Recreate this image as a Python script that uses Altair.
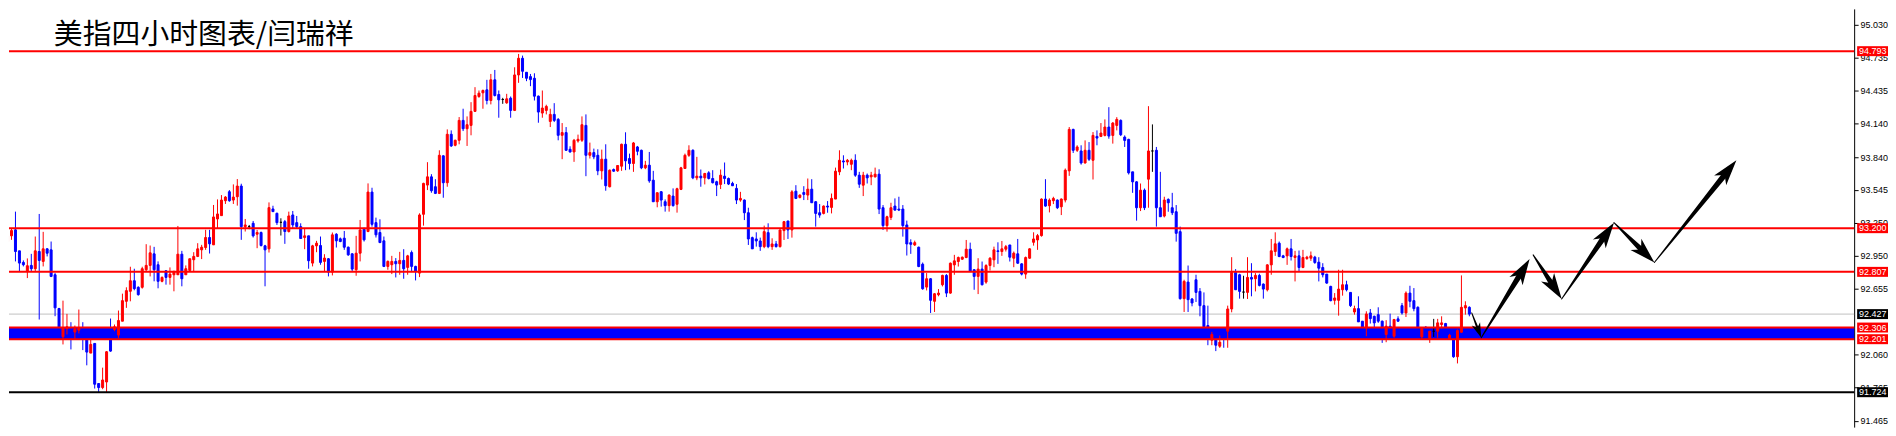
import math
import altair as alt
import pandas as pd

# ---------------- data ----------------
opens = [
    93.080, 93.131, 93.185, 92.996, 92.892, 92.811, 92.865, 92.835, 92.990, 92.901,
    93.014, 93.005, 92.781, 92.477, 92.223, 92.297, 92.300, 92.265, 92.282, 92.294,
    92.199, 92.076, 92.163, 91.802, 91.766, 91.816, 92.288, 92.288, 92.238, 92.363,
    92.542, 92.632, 92.727, 92.668, 92.668, 92.826, 92.865, 92.969, 92.871, 92.722,
    92.817, 92.757, 92.781, 92.781, 92.966, 92.781, 92.820, 92.916, 92.946, 93.005,
    93.026, 93.116, 93.050, 93.283, 93.313, 93.447, 93.528, 93.453, 93.483, 93.579,
    93.214, 93.214, 93.244, 93.146, 93.161, 93.041, 93.014, 93.373, 93.334, 93.253,
    93.259, 93.170, 93.319, 93.250, 93.214, 93.116, 93.131, 92.886, 93.041, 93.044,
    92.901, 92.925, 92.805, 93.146, 93.104, 93.110, 93.029, 92.969, 92.826, 92.975,
    93.190, 93.170, 93.525, 93.250, 93.161, 93.086, 92.856, 92.871, 92.901, 92.880,
    92.910, 92.847, 92.981, 92.856, 92.796, 93.325, 93.588, 93.662, 93.573, 93.513,
    93.851, 93.609, 94.045, 93.946, 93.991, 94.170, 94.095, 94.125, 94.251, 94.385,
    94.418, 94.445, 94.349, 94.535, 94.403, 94.358, 94.328, 94.370, 94.260, 94.579,
    94.729, 94.603, 94.564, 94.549, 94.388, 94.236, 94.260, 94.161, 94.224, 94.179,
    94.036, 94.060, 93.910, 93.886, 93.985, 93.991, 94.125, 93.856, 93.880, 93.856,
    93.716, 93.821, 93.573, 93.728, 93.716, 93.758, 93.955, 93.827, 93.782, 93.931,
    93.901, 93.743, 93.767, 93.632, 93.438, 93.528, 93.438, 93.403, 93.489, 93.415,
    93.549, 93.737, 93.856, 93.901, 93.653, 93.668, 93.653, 93.698, 93.647, 93.618,
    93.594, 93.668, 93.647, 93.603, 93.558, 93.453, 93.453, 93.339, 93.115, 93.103,
    93.085, 93.034, 93.160, 93.034, 93.058, 93.034, 93.178, 93.265, 93.184, 93.533,
    93.477, 93.521, 93.498, 93.551, 93.438, 93.339, 93.333, 93.399, 93.387, 93.462,
    93.707, 93.805, 93.796, 93.775, 93.811, 93.677, 93.587, 93.677, 93.662, 93.662,
    93.686, 93.384, 93.223, 93.297, 93.399, 93.372, 93.372, 93.229, 93.070, 93.049,
    93.029, 92.876, 92.670, 92.745, 92.542, 92.601, 92.691, 92.775, 92.616, 92.870,
    92.900, 92.921, 92.936, 93.011, 92.826, 92.766, 92.832, 92.715, 92.864, 92.915,
    92.996, 92.990, 93.011, 93.049, 92.930, 92.969, 92.879, 92.787, 92.930, 93.073,
    93.094, 93.133, 93.462, 93.402, 93.447, 93.453, 93.393, 93.453, 93.716, 94.089,
    93.901, 93.895, 93.787, 93.901, 93.811, 94.026, 94.026, 94.035, 94.110, 94.035,
    94.125, 94.170, 94.020, 93.999, 93.707, 93.617, 93.384, 93.542, 93.641, 93.895,
    93.901, 93.384, 93.309, 93.459, 93.384, 93.348, 93.169, 92.566, 92.715, 92.563,
    92.736, 92.631, 92.503, 92.324, 92.192, 92.207, 92.138, 92.273, 92.273, 92.473,
    92.802, 92.781, 92.625, 92.622, 92.757, 92.745, 92.775, 92.697, 92.646, 92.870,
    92.990, 93.065, 92.951, 92.951, 93.014, 92.936, 92.951, 92.846, 92.927, 92.930,
    92.939, 92.894, 92.846, 92.787, 92.676, 92.551, 92.551, 92.646, 92.691, 92.622,
    92.446, 92.476, 92.363, 92.303, 92.437, 92.407, 92.422, 92.363, 92.243, 92.318,
    92.228, 92.384, 92.503, 92.437, 92.616, 92.548, 92.488, 92.222, 92.309, 92.207,
    92.273, 92.273, 92.333, 92.342, 92.207, 92.279, 92.043, 92.264, 92.482, 92.488,
]
highs = [
    93.185, 93.199, 93.349, 92.996, 92.910, 92.928, 92.969, 93.125, 93.328, 93.167,
    93.020, 93.080, 92.796, 92.483, 92.548, 92.429, 92.354, 92.324, 92.468, 92.354,
    92.205, 92.205, 92.163, 91.802, 91.945, 92.094, 92.387, 92.333, 92.459, 92.611,
    92.668, 92.853, 92.835, 92.677, 92.853, 93.056, 93.044, 93.032, 92.901, 92.766,
    92.823, 92.847, 92.817, 93.220, 92.996, 92.865, 92.925, 92.984, 93.065, 93.050,
    93.185, 93.185, 93.409, 93.459, 93.498, 93.489, 93.543, 93.594, 93.642, 93.600,
    93.283, 93.229, 93.265, 93.184, 93.170, 93.050, 93.432, 93.402, 93.340, 93.289,
    93.274, 93.349, 93.355, 93.310, 93.244, 93.199, 93.131, 93.050, 93.086, 93.125,
    92.966, 92.931, 93.161, 93.155, 93.116, 93.175, 93.035, 92.975, 93.131, 93.274,
    93.205, 93.603, 93.564, 93.295, 93.280, 93.125, 92.910, 92.951, 92.931, 92.987,
    93.011, 92.960, 92.999, 92.862, 93.334, 93.609, 93.794, 93.686, 93.641, 93.901,
    93.856, 94.089, 94.080, 93.997, 94.200, 94.275, 94.206, 94.334, 94.469, 94.439,
    94.448, 94.535, 94.588, 94.624, 94.439, 94.373, 94.409, 94.385, 94.648, 94.768,
    94.753, 94.603, 94.588, 94.594, 94.394, 94.439, 94.311, 94.275, 94.325, 94.191,
    94.146, 94.110, 93.937, 94.003, 94.042, 94.206, 94.224, 93.970, 93.916, 93.910,
    93.907, 93.955, 93.728, 93.737, 93.767, 93.961, 94.063, 93.871, 93.976, 93.940,
    93.907, 93.806, 93.886, 93.716, 93.522, 93.534, 93.459, 93.504, 93.558, 93.564,
    93.752, 93.871, 93.946, 93.910, 93.842, 93.728, 93.698, 93.713, 93.722, 93.627,
    93.728, 93.791, 93.656, 93.618, 93.597, 93.527, 93.459, 93.384, 93.124, 93.163,
    93.115, 93.223, 93.244, 93.109, 93.085, 93.190, 93.265, 93.265, 93.542, 93.587,
    93.504, 93.578, 93.647, 93.641, 93.444, 93.417, 93.405, 93.444, 93.512, 93.745,
    93.901, 93.856, 93.823, 93.826, 93.865, 93.707, 93.707, 93.692, 93.707, 93.745,
    93.730, 93.408, 93.312, 93.429, 93.468, 93.483, 93.408, 93.268, 93.100, 93.088,
    93.034, 92.891, 92.796, 92.751, 92.616, 92.652, 92.781, 92.787, 92.891, 92.960,
    92.945, 92.945, 93.094, 93.070, 92.832, 92.930, 92.900, 92.876, 92.939, 93.034,
    93.073, 93.085, 93.049, 93.049, 92.990, 93.103, 92.885, 92.945, 93.020, 93.163,
    93.148, 93.468, 93.641, 93.468, 93.483, 93.459, 93.468, 93.737, 94.110, 94.095,
    93.946, 93.946, 93.990, 93.975, 94.065, 94.080, 94.146, 94.179, 94.289, 94.155,
    94.199, 94.179, 94.035, 94.005, 93.707, 93.623, 93.602, 93.557, 94.298, 94.134,
    93.931, 93.707, 93.483, 93.468, 93.518, 93.408, 93.214, 92.736, 92.864, 92.572,
    92.781, 92.661, 92.622, 92.503, 92.267, 92.213, 92.234, 92.294, 92.503, 92.939,
    92.832, 92.790, 92.772, 92.939, 92.885, 92.796, 92.790, 92.703, 92.876, 93.103,
    93.163, 93.080, 92.960, 93.026, 93.103, 92.996, 92.999, 93.005, 92.951, 92.990,
    92.951, 92.939, 92.885, 92.787, 92.682, 92.616, 92.826, 92.826, 92.727, 92.625,
    92.503, 92.587, 92.363, 92.452, 92.473, 92.413, 92.488, 92.369, 92.372, 92.431,
    92.384, 92.407, 92.527, 92.631, 92.682, 92.661, 92.497, 92.303, 92.318, 92.273,
    92.384, 92.384, 92.407, 92.348, 92.249, 92.288, 92.288, 92.775, 92.542, 92.497,
]
lows = [
    93.020, 93.095, 92.901, 92.811, 92.856, 92.751, 92.811, 92.811, 92.378, 92.856,
    92.946, 92.760, 92.408, 92.229, 92.154, 92.244, 92.109, 92.199, 92.253, 92.103,
    91.966, 92.076, 91.757, 91.721, 91.751, 91.721, 92.088, 92.273, 92.208, 92.363,
    92.483, 92.542, 92.641, 92.593, 92.656, 92.811, 92.766, 92.722, 92.659, 92.713,
    92.692, 92.692, 92.632, 92.781, 92.677, 92.781, 92.811, 92.811, 92.940, 92.922,
    93.005, 92.972, 93.050, 93.193, 93.313, 93.418, 93.438, 93.418, 93.403, 93.095,
    93.170, 93.191, 93.116, 93.020, 93.035, 92.677, 92.981, 93.349, 93.229, 93.134,
    93.059, 93.161, 93.199, 93.199, 93.104, 93.011, 92.835, 92.856, 92.984, 92.871,
    92.811, 92.766, 92.775, 93.026, 93.074, 93.005, 92.951, 92.805, 92.772, 92.901,
    93.080, 93.164, 93.214, 93.116, 93.065, 92.850, 92.826, 92.787, 92.757, 92.781,
    92.745, 92.781, 92.805, 92.730, 92.760, 93.223, 93.543, 93.519, 93.507, 93.507,
    93.474, 93.573, 93.931, 93.937, 93.955, 94.074, 93.940, 94.036, 94.251, 94.373,
    94.275, 94.314, 94.314, 94.385, 94.194, 94.319, 94.319, 94.194, 94.254, 94.508,
    94.552, 94.523, 94.478, 94.349, 94.149, 94.194, 94.224, 94.110, 94.155, 93.991,
    93.821, 93.895, 93.880, 93.797, 93.970, 93.976, 93.668, 93.827, 93.821, 93.677,
    93.638, 93.537, 93.567, 93.707, 93.707, 93.716, 93.722, 93.728, 93.707, 93.856,
    93.731, 93.731, 93.609, 93.438, 93.388, 93.394, 93.349, 93.349, 93.394, 93.340,
    93.543, 93.737, 93.842, 93.641, 93.632, 93.573, 93.594, 93.638, 93.603, 93.489,
    93.552, 93.597, 93.588, 93.579, 93.417, 93.438, 93.273, 93.049, 93.014, 93.034,
    92.996, 93.020, 93.020, 93.005, 93.026, 93.026, 93.094, 93.103, 93.115, 93.462,
    93.468, 93.453, 93.453, 93.429, 93.214, 93.294, 93.324, 93.339, 93.333, 93.462,
    93.677, 93.737, 93.766, 93.722, 93.662, 93.563, 93.489, 93.602, 93.587, 93.656,
    93.327, 93.184, 93.169, 93.273, 93.357, 93.354, 93.124, 92.954, 92.969, 93.040,
    92.849, 92.646, 92.640, 92.437, 92.446, 92.587, 92.676, 92.580, 92.610, 92.781,
    92.855, 92.915, 92.930, 92.805, 92.646, 92.607, 92.685, 92.700, 92.819, 92.849,
    92.879, 92.951, 92.990, 92.900, 92.849, 92.879, 92.775, 92.745, 92.924, 93.043,
    93.005, 93.124, 93.393, 93.342, 93.417, 93.372, 93.318, 93.432, 93.671, 93.877,
    93.886, 93.772, 93.781, 93.805, 93.638, 93.946, 94.020, 94.026, 94.005, 93.961,
    94.080, 94.029, 93.931, 93.683, 93.518, 93.268, 93.354, 93.363, 93.384, 93.707,
    93.214, 93.303, 93.297, 93.348, 93.318, 93.079, 92.557, 92.446, 92.446, 92.497,
    92.536, 92.407, 92.303, 92.147, 92.147, 92.094, 92.123, 92.124, 92.124, 92.443,
    92.646, 92.566, 92.566, 92.563, 92.587, 92.631, 92.676, 92.566, 92.631, 92.781,
    92.951, 92.939, 92.930, 92.870, 92.909, 92.721, 92.805, 92.840, 92.915, 92.906,
    92.879, 92.721, 92.757, 92.700, 92.542, 92.512, 92.413, 92.593, 92.631, 92.491,
    92.422, 92.357, 92.297, 92.228, 92.342, 92.303, 92.348, 92.168, 92.174, 92.294,
    92.213, 92.357, 92.422, 92.401, 92.488, 92.452, 92.294, 92.204, 92.294, 92.168,
    92.222, 92.213, 92.297, 92.297, 92.198, 92.034, 91.983, 92.258, 92.422, 92.407,
]
closes = [
    93.131, 93.179, 92.990, 92.886, 92.871, 92.862, 92.835, 92.996, 92.910, 93.014,
    92.975, 92.766, 92.483, 92.303, 92.303, 92.312, 92.265, 92.294, 92.300, 92.265,
    92.085, 92.154, 91.796, 91.766, 91.834, 92.088, 92.094, 92.312, 92.369, 92.548,
    92.638, 92.727, 92.656, 92.602, 92.835, 92.865, 92.978, 92.826, 92.722, 92.757,
    92.757, 92.787, 92.811, 92.966, 92.745, 92.835, 92.925, 92.946, 93.014, 93.029,
    93.116, 93.059, 93.301, 93.328, 93.453, 93.480, 93.447, 93.480, 93.579, 93.214,
    93.229, 93.214, 93.131, 93.161, 93.044, 93.005, 93.385, 93.349, 93.250, 93.253,
    93.170, 93.310, 93.229, 93.214, 93.107, 93.131, 92.907, 93.041, 93.065, 92.892,
    92.931, 92.805, 93.140, 93.086, 93.080, 93.029, 92.960, 92.832, 92.975, 93.184,
    93.095, 93.525, 93.235, 93.140, 93.071, 92.856, 92.901, 92.901, 92.880, 92.910,
    92.835, 92.951, 92.856, 92.811, 93.319, 93.603, 93.662, 93.537, 93.513, 93.856,
    93.609, 94.045, 93.940, 93.991, 94.170, 94.095, 94.131, 94.251, 94.394, 94.415,
    94.439, 94.349, 94.535, 94.394, 94.355, 94.358, 94.364, 94.260, 94.579, 94.729,
    94.612, 94.549, 94.537, 94.388, 94.245, 94.281, 94.296, 94.224, 94.170, 94.036,
    94.060, 93.901, 93.886, 93.991, 94.000, 94.131, 93.856, 93.880, 93.842, 93.716,
    93.821, 93.582, 93.722, 93.713, 93.764, 93.955, 93.806, 93.782, 93.967, 93.892,
    93.743, 93.767, 93.626, 93.438, 93.519, 93.453, 93.403, 93.498, 93.403, 93.555,
    93.743, 93.856, 93.901, 93.653, 93.668, 93.653, 93.692, 93.647, 93.609, 93.588,
    93.677, 93.647, 93.597, 93.582, 93.453, 93.468, 93.339, 93.103, 93.014, 93.085,
    93.034, 93.169, 93.034, 93.058, 93.034, 93.184, 93.259, 93.184, 93.527, 93.468,
    93.498, 93.504, 93.551, 93.429, 93.333, 93.318, 93.399, 93.390, 93.468, 93.713,
    93.811, 93.796, 93.811, 93.811, 93.677, 93.596, 93.677, 93.653, 93.677, 93.686,
    93.372, 93.223, 93.303, 93.384, 93.363, 93.363, 93.223, 93.058, 93.055, 93.070,
    92.855, 92.655, 92.745, 92.551, 92.610, 92.616, 92.775, 92.616, 92.885, 92.906,
    92.936, 92.939, 93.011, 92.811, 92.766, 92.832, 92.691, 92.864, 92.930, 93.005,
    92.990, 93.014, 93.034, 92.939, 92.975, 92.885, 92.787, 92.936, 93.014, 93.103,
    93.133, 93.462, 93.399, 93.453, 93.468, 93.384, 93.462, 93.722, 94.089, 93.901,
    93.931, 93.787, 93.901, 93.820, 94.035, 94.011, 94.056, 94.110, 94.029, 94.146,
    94.179, 94.041, 93.990, 93.698, 93.617, 93.384, 93.542, 93.384, 93.895, 93.895,
    93.384, 93.303, 93.453, 93.429, 93.339, 93.154, 92.566, 92.721, 92.557, 92.527,
    92.622, 92.503, 92.312, 92.282, 92.243, 92.147, 92.174, 92.213, 92.473, 92.802,
    92.646, 92.631, 92.625, 92.757, 92.742, 92.775, 92.685, 92.652, 92.870, 92.996,
    93.059, 92.945, 92.936, 93.014, 92.945, 92.951, 92.846, 92.936, 92.939, 92.951,
    92.891, 92.840, 92.781, 92.706, 92.548, 92.572, 92.652, 92.691, 92.646, 92.503,
    92.476, 92.357, 92.309, 92.428, 92.386, 92.348, 92.363, 92.303, 92.318, 92.303,
    92.378, 92.363, 92.437, 92.616, 92.542, 92.476, 92.303, 92.297, 92.297, 92.273,
    92.273, 92.348, 92.348, 92.303, 92.237, 92.043, 92.279, 92.488, 92.503, 92.427,
]

red_levels = [94.793, 93.200, 92.807, 92.306, 92.201]
band_low, band_high = 92.201, 92.306
bid_level = 92.427
support_level = 91.724
tick_values = [95.030, 94.735, 94.435, 94.140, 93.840, 93.545, 93.250,
               92.950, 92.655, 92.060, 91.765, 91.465]

# forecast arrows: start (bar index, price) -> end (bar index, price)
arrow_start_x = [369.6, 372.0, 385.1, 392.3, 405.5, 415.7]
arrow_start_p = [92.438, 92.214, 92.960, 92.563, 93.250, 92.891]
arrow_end_x = [372.0, 384.2, 392.3, 405.5, 415.7, 436.4]
arrow_end_p = [92.214, 92.922, 92.563, 93.250, 92.891, 93.811]

title_text = "美指四小时图表/闫瑞祥"

# ---------------- layout ----------------
W, H = 1853, 420
XMIN = 1.625
XMAX = XMIN + W / 4.0
PX_PER_PRICE = 111.6
YMAX = 95.1734
YMIN = YMAX - H / PX_PER_PRICE

xs = alt.Scale(domain=[XMIN, XMAX], nice=False, zero=False)
ys = alt.Scale(domain=[YMIN, YMAX], nice=False, zero=False)

yaxis = alt.Axis(orient="right", values=tick_values, format=".3f",
                 labelFont="Liberation Sans", labelFontSize=9, labelColor="black",
                 tickColor="black", domainColor="black", tickSize=4, tickWidth=1,
                 domainWidth=1, labelPadding=2, grid=False, title=None,
                 labelOverlap=False, labelFlush=False)

# ---------------- tables ----------------
def direction(o, c):
    if c > o + 1e-6:
        return "up"
    if c < o - 1e-6:
        return "down"
    return "doji"

candles = pd.DataFrame({
    "idx": list(range(len(opens))),
    "open": opens, "high": highs, "low": lows, "close": closes,
})
candles["dir"] = [direction(o, c) for o, c in zip(opens, closes)]

dir_scale = alt.Scale(domain=["up", "down", "doji"],
                      range=["#ff0000", "#0000ff", "#000000"])

sx_px = W / (XMAX - XMIN)
sy_px = H / (YMAX - YMIN)
trail_rows, head_rows = [], []
for k in range(len(arrow_start_x)):
    x0, p0 = arrow_start_x[k], arrow_start_p[k]
    x1, p1 = arrow_end_x[k], arrow_end_p[k]
    dx = (x1 - x0) * sx_px
    dy = -(p1 - p0) * sy_px
    L = math.hypot(dx, dy)
    ux, uy = dx / L, dy / L
    hl = 15 if k == 0 else 26
    sw = 2.5 if k == 0 else 6
    cx = x1 - ux * hl * 0.5 / sx_px
    cp = p1 + uy * hl * 0.5 / sy_px
    ang = math.degrees(math.atan2(ux, -uy)) % 360
    trail_rows.append({"arrow": k, "ord": 0, "x": x0, "p": p0, "w": 1.0})
    trail_rows.append({"arrow": k, "ord": 1, "x": cx, "p": cp, "w": sw})
    head_rows.append({"x": cx, "p": cp, "s": hl * hl, "a": ang})
trail_df = pd.DataFrame(trail_rows)
head_df = pd.DataFrame(head_rows)

red_df = pd.DataFrame({"price": red_levels})
black_df = pd.DataFrame({"price": [support_level]})
bid_df = pd.DataFrame({"price": [bid_level]})
band_df = pd.DataFrame({"lo": [band_low], "hi": [band_high]})

red_lab = pd.DataFrame({"price": red_levels, "label": [f"{v:.3f}" for v in red_levels]})
blk_levels = [bid_level, support_level]
blk_lab = pd.DataFrame({"price": blk_levels, "label": [f"{v:.3f}" for v in blk_levels]})

# ---------------- layers ----------------
band = alt.Chart(band_df).mark_rect(color="#0000ff").encode(
    y=alt.Y("lo:Q", scale=ys, axis=yaxis), y2="hi:Q",
    x=alt.value(0), x2=alt.value(W))

bid = alt.Chart(bid_df).mark_rule(color="#c0c0c0", strokeWidth=1).encode(
    y=alt.Y("price:Q", scale=ys, axis=yaxis), x=alt.value(0), x2=alt.value(W))

wicks = alt.Chart(candles).mark_rule(strokeWidth=1, clip=True).encode(
    x=alt.X("idx:Q", scale=xs, axis=None),
    y=alt.Y("low:Q", scale=ys, axis=yaxis), y2="high:Q",
    color=alt.Color("dir:N", scale=dir_scale, legend=None))

bodies = alt.Chart(candles).mark_bar(size=2, strokeWidth=1, clip=True).encode(
    x=alt.X("idx:Q", scale=xs, axis=None),
    y=alt.Y("open:Q", scale=ys, axis=yaxis), y2="close:Q",
    color=alt.Color("dir:N", scale=dir_scale, legend=None),
    stroke=alt.Stroke("dir:N", scale=dir_scale, legend=None))

red_lines = alt.Chart(red_df).mark_rule(color="#ff0000", strokeWidth=2).encode(
    y=alt.Y("price:Q", scale=ys, axis=yaxis), x=alt.value(0), x2=alt.value(W))

black_line = alt.Chart(black_df).mark_rule(color="#000000", strokeWidth=2).encode(
    y=alt.Y("price:Q", scale=ys, axis=yaxis), x=alt.value(0), x2=alt.value(W))

shafts = alt.Chart(trail_df).mark_trail(color="black").encode(
    x=alt.X("x:Q", scale=xs, axis=None),
    y=alt.Y("p:Q", scale=ys, axis=yaxis),
    size=alt.Size("w:Q", scale=None),
    detail="arrow:N", order="ord:Q")

heads = alt.Chart(head_df).mark_point(
    shape="M0,-1L0.6,1L0,0.45L-0.6,1Z", filled=True, color="black",
    opacity=1, strokeWidth=0).encode(
    x=alt.X("x:Q", scale=xs, axis=None),
    y=alt.Y("p:Q", scale=ys, axis=yaxis),
    size=alt.Size("s:Q", scale=None),
    angle=alt.Angle("a:Q", scale=None))

title = alt.Chart(pd.DataFrame({"t": [title_text]})).mark_text(
    font="Noto Sans CJK SC", fontSize=29, color="black", align="left",
    baseline="middle").encode(text="t:N", x=alt.value(45), y=alt.value(26))

red_boxes = alt.Chart(red_lab).mark_rect(color="#ff0000", clip=False,
                                         yOffset=-5, y2Offset=5).encode(
    y=alt.Y("price:Q", scale=ys, axis=yaxis), y2="price:Q",
    x=alt.value(W + 3), x2=alt.value(W + 34))
blk_boxes = alt.Chart(blk_lab).mark_rect(color="#000000", clip=False,
                                         yOffset=-5, y2Offset=5).encode(
    y=alt.Y("price:Q", scale=ys, axis=yaxis), y2="price:Q",
    x=alt.value(W + 3), x2=alt.value(W + 34))
red_text = alt.Chart(red_lab).mark_text(
    font="Liberation Sans", fontSize=9, color="white", align="left",
    baseline="middle", clip=False).encode(
    y=alt.Y("price:Q", scale=ys, axis=yaxis), text="label:N", x=alt.value(W + 5))
blk_text = alt.Chart(blk_lab).mark_text(
    font="Liberation Sans", fontSize=9, color="white", align="left",
    baseline="middle", clip=False).encode(
    y=alt.Y("price:Q", scale=ys, axis=yaxis), text="label:N", x=alt.value(W + 5))

chart = alt.layer(
    band, bid, wicks, bodies, red_lines, black_line, shafts, heads, title,
    red_boxes, blk_boxes, red_text, blk_text
).properties(width=W, height=H, padding=0, background="white").configure_view(
    strokeOpacity=0)

chart.save("out.html", embed_options={"renderer": "svg", "actions": False})
